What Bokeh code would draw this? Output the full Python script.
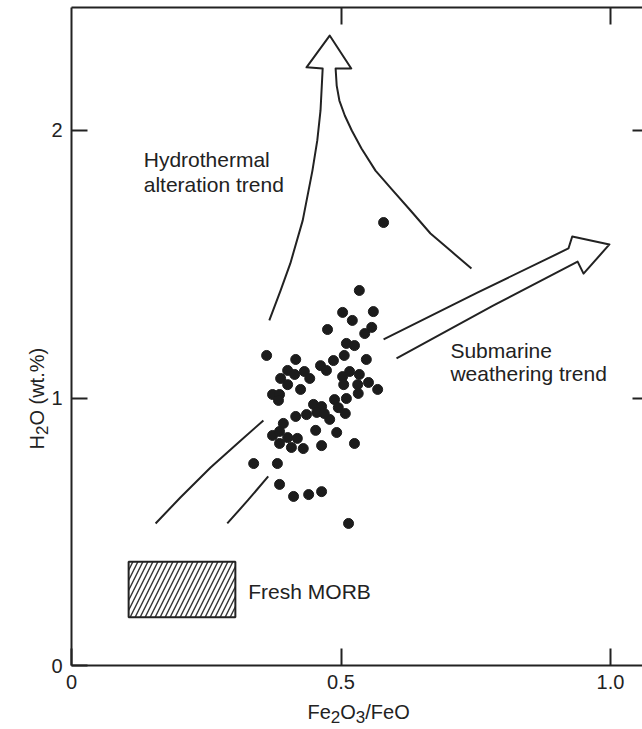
import math

from bokeh.plotting import figure
from bokeh.models import LinearAxis, FixedTicker, CustomJSTickFormatter, Label, Range1d
from bokeh.embed import file_html
from bokeh.resources import INLINE

# Fe2O3/FeO ratio and H2O content (wt.%) of the analysed basalts
fe_ratio = [0.579, 0.534, 0.503, 0.560, 0.521, 0.475, 0.557, 0.544, 0.510, 0.525,
            0.362, 0.416, 0.506, 0.547, 0.486, 0.462, 0.473, 0.401, 0.432, 0.414,
            0.442, 0.388, 0.516, 0.534, 0.503, 0.401, 0.425, 0.505, 0.531, 0.551,
            0.568, 0.532, 0.373, 0.386, 0.384, 0.510, 0.488, 0.449, 0.464, 0.495,
            0.455, 0.508, 0.416, 0.436, 0.479, 0.393, 0.453, 0.492, 0.373, 0.386,
            0.401, 0.419, 0.386, 0.408, 0.430, 0.464, 0.525, 0.338, 0.382, 0.386,
            0.412, 0.440, 0.464, 0.514, 0.469]
h2o = [1.656, 1.402, 1.320, 1.323, 1.290, 1.256, 1.264, 1.241, 1.204, 1.196,
       1.159, 1.144, 1.159, 1.144, 1.140, 1.121, 1.103, 1.103, 1.099, 1.088,
       1.073, 1.073, 1.099, 1.088, 1.080, 1.050, 1.032, 1.050, 1.050, 1.058,
       1.032, 1.017, 1.013, 1.013, 0.991, 0.998, 0.994, 0.976, 0.968, 0.964,
       0.946, 0.942, 0.931, 0.938, 0.920, 0.905, 0.879, 0.871, 0.860, 0.875,
       0.852, 0.849, 0.830, 0.815, 0.811, 0.822, 0.830, 0.755, 0.755, 0.677,
       0.632, 0.639, 0.650, 0.531, 0.942]

# Hydrothermal alteration trend: open arrow pointing upwards
hydro_x = [0.367, 0.388, 0.406, 0.429, 0.447, 0.456, 0.462, 0.466, 0.436, 0.479,
           0.519, 0.490, 0.492, 0.497, 0.507, 0.520, 0.538, 0.564, 0.596, 0.629,
           0.666, 0.703, 0.742]
hydro_y = [1.290, 1.402, 1.503, 1.664, 1.850, 1.963, 2.075, 2.232, 2.236, 2.355,
           2.232, 2.232, 2.168, 2.112, 2.056, 2.000, 1.933, 1.850, 1.776, 1.701,
           1.615, 1.551, 1.484]

# Submarine weathering trend: open arrow pointing to the upper right
weath_x = [0.579, 0.753, 0.922, 0.929, 0.998, 0.950, 0.939, 0.783, 0.603]
weath_y = [1.219, 1.394, 1.559, 1.604, 1.574, 1.465, 1.510, 1.346, 1.148]

# Tails of the trend field towards fresh basalt
tail_a_x = [0.156, 0.202, 0.258, 0.314, 0.356]
tail_a_y = [0.531, 0.628, 0.740, 0.841, 0.916]
tail_b_x = [0.289, 0.327, 0.365]
tail_b_y = [0.531, 0.617, 0.707]

# Fresh MORB field
morb_x = [0.106, 0.304]
morb_y = [0.180, 0.388]

x_ticks = [0, 0.5, 1.0]
y_ticks = [0, 1, 2]
x_max = 1.0594   # right edge of the drawing
y_max = 2.4598   # top frame line

INK = "#222222"
FONT = "Liberation Sans"
W, H = 642, 729

# The plotting area covers the whole canvas; axes are pinned at data locations
p = figure(width=W, height=H,
           x_range=Range1d(-0.13173, 1.05937), y_range=Range1d(-0.23925, 2.48598),
           output_backend="svg", toolbar_location=None,
           x_axis_location=None, y_axis_location=None,
           min_border_left=0, min_border_right=0,
           min_border_top=0, min_border_bottom=0)
p.outline_line_color = None
p.xgrid.visible = False
p.ygrid.visible = False
p.background_fill_color = "white"
p.border_fill_color = "white"

blank = CustomJSTickFormatter(code="return '';")


def make_axis(ticks, loc, bounds, tick_in, labels=True, line=True, formatter=None):
    kw = dict(ticker=FixedTicker(ticks=ticks), fixed_location=loc, bounds=bounds)
    if formatter is not None:
        kw["formatter"] = formatter
    elif not labels:
        kw["formatter"] = blank
    ax = LinearAxis(**kw)
    ax.major_tick_in = tick_in
    ax.major_tick_out = 0
    ax.minor_tick_line_color = None
    ax.major_tick_line_color = INK
    ax.major_tick_line_width = 2
    ax.axis_line_color = INK if line else None
    ax.axis_line_width = 2
    ax.major_label_text_font = FONT
    ax.major_label_text_font_size = "20px"
    ax.major_label_text_color = INK
    return ax


bottom = make_axis(x_ticks, 0, (0, x_max), 17,
                   formatter=CustomJSTickFormatter(code="return tick == 0 ? '0' : tick.toFixed(1);"))
bottom.major_label_standoff = 9
p.add_layout(bottom, "below")

left = make_axis(y_ticks, 0, (0, y_max), 16)
left.major_label_standoff = 9
p.add_layout(left, "left")

top = make_axis([0.5, 1.0], y_max, (0, x_max), 17, labels=False)
p.add_layout(top, "above")

right = make_axis([1, 2], x_max, (0, y_max), 10, labels=False, line=False)
p.add_layout(right, "right")

# Fresh MORB box
p.quad(left=morb_x[0], right=morb_x[1], bottom=morb_y[0], top=morb_y[1],
       fill_color=None, line_color=INK, line_width=2,
       hatch_pattern="/", hatch_color="#333333", hatch_scale=10, hatch_weight=1.4)

# Trend arrows and field boundaries
for xs, ys in [(hydro_x, hydro_y), (weath_x, weath_y),
               (tail_a_x, tail_a_y), (tail_b_x, tail_b_y)]:
    p.line(xs, ys, line_color=INK, line_width=2, line_join="round")

# Samples
p.scatter(fe_ratio, h2o, size=10, fill_color="#1c1c1c", line_color="#1c1c1c", line_width=1)

# Field annotations
for txt, x, y in [("Hydrothermal", 0.134, 1.893),
                  ("alteration trend", 0.134, 1.798),
                  ("Submarine", 0.703, 1.178),
                  ("weathering trend", 0.703, 1.093),
                  ("Fresh MORB", 0.328, 0.278)]:
    p.add_layout(Label(x=x, y=y, text=txt, text_font=FONT, text_font_size="21px",
                       text_color=INK, text_align="left", text_baseline="alphabetic"))

# Axis titles with subscripts, assembled from pieces (positions in canvas pixels)
ADV = {"F": 0.611, "e": 0.556, "O": 0.778, "/": 0.278, "2": 0.556, "3": 0.556,
       "H": 0.722, " ": 0.278, "(": 0.333, "w": 0.722, "t": 0.278, ".": 0.278,
       "%": 0.889, ")": 0.333}
MAIN_SIZE = 20
SUB_SIZE = 17
SUB_DROP = 5


def title(pieces, cx, cy, vertical):
    pos = 0.0
    for txt, sub in pieces:
        size = SUB_SIZE if sub else MAIN_SIZE
        drop = SUB_DROP if sub else 0
        if vertical:
            x, y, ang = cx + drop, (H - cy) + pos, math.pi / 2
        else:
            x, y, ang = cx + pos, (H - cy) - drop, 0
        p.add_layout(Label(x=x, y=y, x_units="screen", y_units="screen", text=txt,
                           angle=ang, text_font=FONT, text_font_size=f"{size}px",
                           text_color=INK, text_align="left", text_baseline="alphabetic"))
        pos += sum(ADV[c] for c in txt) * size


title([("Fe", False), ("2", True), ("O", False), ("3", True), ("/FeO", False)],
      307, 711, vertical=False)
title([("H", False), ("2", True), ("O (wt.%)", False)], 36, 449, vertical=True)

open("out.html", "w").write(file_html(p, INLINE))
